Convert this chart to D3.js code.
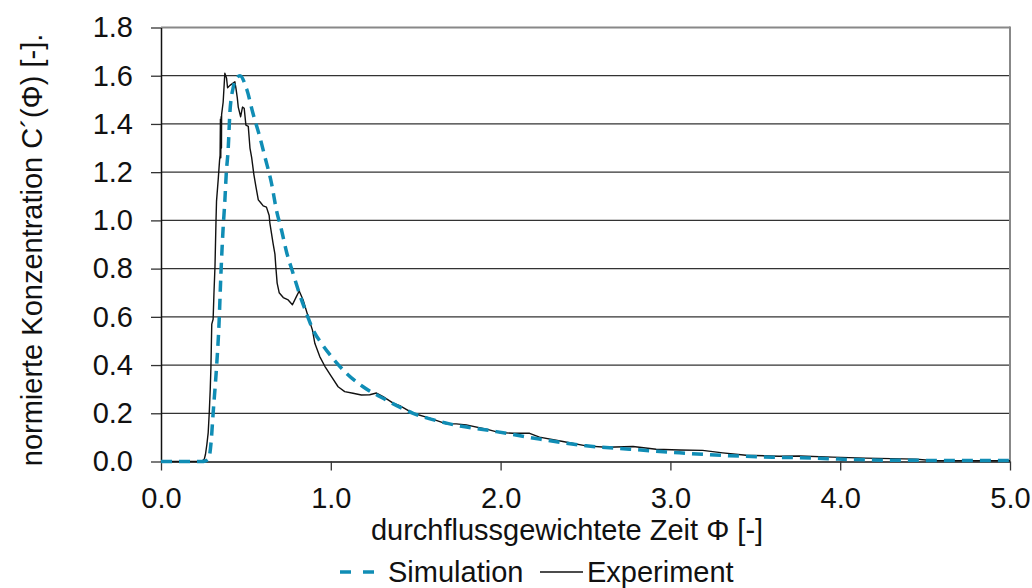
<!DOCTYPE html>
<html>
<head>
<meta charset="utf-8">
<script src="https://cdn.jsdelivr.net/npm/d3@7"></script>
<style>
  html, body { margin: 0; padding: 0; background: #fff; }
  svg { display: block; font-family: "Liberation Sans", Arial, sans-serif; }
</style>
</head>
<body>
<svg id="chart" width="1032" height="588"></svg>
<script>
// Tick values for both axes
const xTicks = [0, 1, 2, 3, 4, 5];
const yTicks = [0, 0.2, 0.4, 0.6, 0.8, 1.0, 1.2, 1.4, 1.6, 1.8];

// Simulated breakthrough curve (flow-weighted time Φ, normalised concentration)
const simPhi = [0, 0.24, 0.26, 0.28, 0.295, 0.307, 0.327, 0.341, 0.353, 0.366, 0.376, 0.384,
  0.396, 0.406, 0.425, 0.445, 0.465, 0.504, 0.542, 0.582, 0.612, 0.651, 0.68, 0.71, 0.739,
  0.778, 0.818, 0.857, 0.896, 0.945, 1.004, 1.092, 1.19, 1.308, 1.485, 1.681, 1.975, 2.229,
  2.504, 2.759, 3.053, 3.347, 3.602, 3.86, 3.99, 4.35, 5.0];
const simVal = [0, 0, 0.002, 0.01, 0.08, 0.2, 0.39, 0.56, 0.78, 0.97, 1.08, 1.19,
  1.30, 1.45, 1.55, 1.59, 1.60, 1.546, 1.443, 1.346, 1.263, 1.153, 1.042, 0.959, 0.87,
  0.78, 0.69, 0.614, 0.545, 0.49, 0.435, 0.366, 0.31, 0.262, 0.2, 0.159, 0.124, 0.093,
  0.065, 0.051, 0.036, 0.024, 0.018, 0.014, 0.01, 0.005, 0.004];

// Measured tracer curve
const expPhi = [0, 0.24, 0.255, 0.262, 0.27, 0.278, 0.284, 0.29, 0.294, 0.297, 0.299, 0.307,
  0.312, 0.318, 0.324, 0.327, 0.337, 0.345, 0.348, 0.350, 0.352, 0.354, 0.356, 0.357, 0.366,
  0.376, 0.386, 0.392, 0.406, 0.425, 0.435, 0.441, 0.449, 0.455, 0.469, 0.48, 0.49, 0.5,
  0.514, 0.524, 0.534, 0.547, 0.559, 0.573, 0.585, 0.602, 0.621, 0.637, 0.641, 0.66, 0.671,
  0.676, 0.684, 0.696, 0.72, 0.749, 0.774, 0.798, 0.814, 0.837, 0.867, 0.892, 0.906, 0.935,
  0.965, 1.004, 1.043, 1.082, 1.131, 1.18, 1.229, 1.269, 1.308, 1.367, 1.406, 1.485, 1.582,
  1.681, 1.739, 1.798, 1.916, 1.994, 2.073, 2.171, 2.229, 2.367, 2.504, 2.622, 2.78, 2.916,
  3.053, 3.19, 3.308, 3.445, 3.64, 3.76, 3.955, 4.15, 4.445, 4.54, 4.84, 5.0];
const expVal = [0, 0, 0.01, 0.03, 0.07, 0.12, 0.2, 0.3, 0.39, 0.5, 0.57, 0.59,
  0.7, 0.81, 1.0, 1.08, 1.17, 1.25, 1.27, 1.42, 1.26, 1.43, 1.30, 1.44, 1.49,
  1.61, 1.59, 1.55, 1.56, 1.57, 1.575, 1.55, 1.51, 1.47, 1.43, 1.47, 1.465, 1.395,
  1.39, 1.30, 1.26, 1.19, 1.14, 1.085, 1.075, 1.06, 1.055, 1.02, 0.99, 0.905, 0.86,
  0.81, 0.74, 0.70, 0.68, 0.67, 0.65, 0.685, 0.707, 0.67, 0.60, 0.545, 0.49, 0.435,
  0.395, 0.352, 0.31, 0.29, 0.283, 0.276, 0.277, 0.284, 0.269, 0.242, 0.232, 0.2, 0.18,
  0.156, 0.156, 0.152, 0.134, 0.12, 0.117, 0.117, 0.101, 0.083, 0.065, 0.059, 0.062, 0.051,
  0.048, 0.046, 0.036, 0.026, 0.022, 0.023, 0.018, 0.014, 0.010, 0.004, 0.003, 0.003];

const simData = simPhi.map((p, i) => ({ x: p, y: simVal[i] }));
const expData = expPhi.map((p, i) => ({ x: p, y: expVal[i] }));

const svg = d3.select("#chart");
const plotLeft = 161, plotRight = 1010, plotTop = 27.5, plotBottom = 461.5;
const fontSize = 29;
const simColor = "#108db5";

const x = d3.scaleLinear().domain([0, 5]).range([plotLeft, plotRight]);
const y = d3.scaleLinear().domain([0, 1.8]).range([plotBottom, plotTop]);

// Horizontal gridlines
svg.append("g")
  .selectAll("line")
  .data(yTicks.filter(v => v > 0))
  .join("line")
  .attr("x1", plotLeft).attr("x2", plotRight)
  .attr("y1", d => y(d)).attr("y2", d => y(d))
  .attr("stroke", d => d === 1.8 ? "#888" : "#333")
  .attr("stroke-width", d => d === 1.8 ? 2 : 1.3);

// Right frame edge
svg.append("line")
  .attr("x1", plotRight).attr("x2", plotRight)
  .attr("y1", plotTop - 1).attr("y2", plotBottom)
  .attr("stroke", "#888").attr("stroke-width", 2);

// Axes
const yAxis = svg.append("g")
  .attr("transform", `translate(${plotLeft},0)`)
  .call(d3.axisLeft(y).tickValues(yTicks).tickFormat(d3.format(".1f"))
    .tickSize(10).tickSizeOuter(0).tickPadding(18));
const xAxis = svg.append("g")
  .attr("transform", `translate(0,${plotBottom})`)
  .call(d3.axisBottom(x).tickValues(xTicks).tickFormat(d3.format(".1f"))
    .tickSize(9).tickSizeOuter(0).tickPadding(8));

[yAxis, xAxis].forEach(g => {
  g.selectAll(".domain").attr("stroke", "#111").attr("stroke-width", 1.5);
  g.selectAll(".tick line").attr("stroke", "#333").attr("stroke-width", 1.3);
  g.selectAll("text").attr("font-size", fontSize).attr("fill", "#111")
    .attr("font-family", "'Liberation Sans', Arial, sans-serif");
});
xAxis.selectAll("text").attr("dy", null).attr("y", 46);

// Curves
const line = d3.line().x(d => x(d.x)).y(d => y(d.y));

svg.append("path")
  .datum(expData)
  .attr("fill", "none")
  .attr("stroke", "#111")
  .attr("stroke-width", 1.4)
  .attr("stroke-linejoin", "round")
  .attr("d", line);

svg.append("path")
  .datum(simData)
  .attr("fill", "none")
  .attr("stroke", simColor)
  .attr("stroke-width", 3.5)
  .attr("stroke-dasharray", "11,7")
  .attr("d", line.curve(d3.curveMonotoneX));

// Axis titles
svg.append("text")
  .attr("x", 567).attr("y", 540)
  .attr("text-anchor", "middle")
  .attr("font-size", fontSize).attr("fill", "#111")
  .text("durchflussgewichtete Zeit Φ [-]");

svg.append("text")
  .attr("transform", "translate(42,250) rotate(-90)")
  .attr("text-anchor", "middle")
  .attr("font-size", fontSize).attr("fill", "#111")
  .text("normierte Konzentration C´(Φ) [-].");

// Legend
const legY = 572;
svg.append("line")
  .attr("x1", 340).attr("x2", 375).attr("y1", legY).attr("y2", legY)
  .attr("stroke", simColor).attr("stroke-width", 3.5)
  .attr("stroke-dasharray", "11,12");
svg.append("text")
  .attr("x", 388).attr("y", 582)
  .attr("font-size", fontSize).attr("fill", "#111")
  .text("Simulation");
svg.append("line")
  .attr("x1", 540).attr("x2", 583).attr("y1", legY).attr("y2", legY)
  .attr("stroke", "#111").attr("stroke-width", 1.3);
svg.append("text")
  .attr("x", 587).attr("y", 582)
  .attr("font-size", fontSize).attr("fill", "#111")
  .text("Experiment");
</script>
</body>
</html>
